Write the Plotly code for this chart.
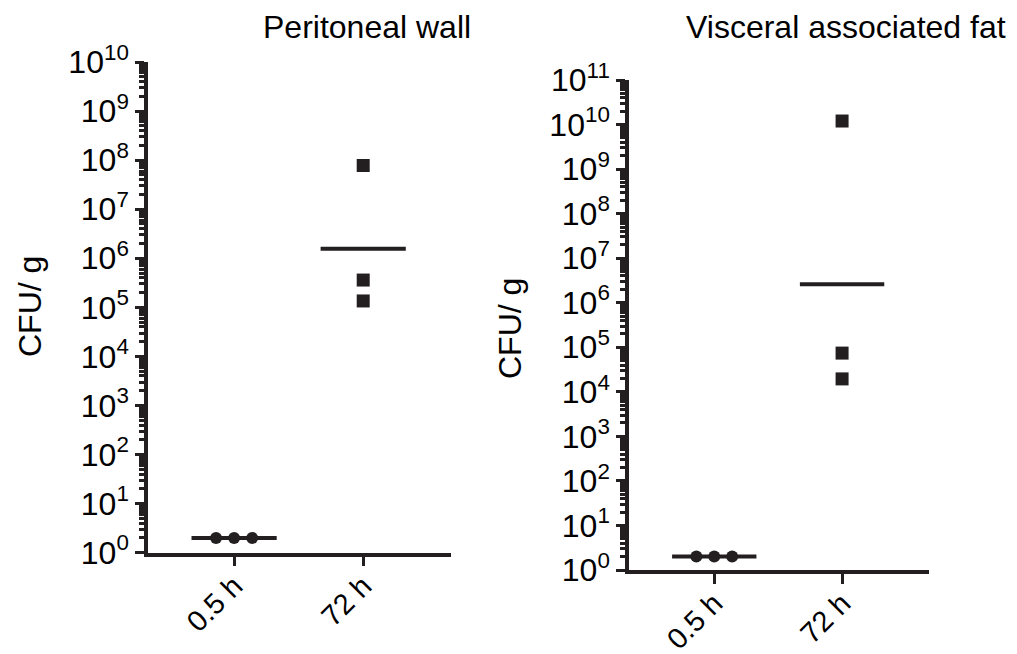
import numpy as np
import plotly.graph_objects as go

# ---- data ----
categories = ["0.5 h", "72 h"]
peritoneal_05h = [2, 2, 2]
peritoneal_72h = [7.8e7, 3.6e5, 1.35e5]
visceral_05h = [2, 2, 2]
visceral_72h = [1.2e10, 7.4e4, 1.95e4]
titles = ["Peritoneal wall", "Visceral associated fat"]
y_title = "CFU/ g"
left_max_exp = 10
right_max_exp = 11

INK = "#231f20"
FONT = "Liberation Sans, Arial, sans-serif"

fig = go.Figure()


def geo_mean(vals):
    return float(10 ** np.mean(np.log10(vals)))


def add_group(xref, yref, xpos, vals, symbol, size, spread):
    n = len(vals)
    if spread:
        xs = [xpos + (i - (n - 1) / 2) * 0.14 for i in range(n)]
    else:
        xs = [xpos] * n
    m = geo_mean(vals)
    fig.add_trace(go.Scatter(x=[xpos - 0.33, xpos + 0.33], y=[m, m], mode="lines",
                             line=dict(color=INK, width=4), xaxis=xref, yaxis=yref,
                             showlegend=False, hoverinfo="skip"))
    fig.add_trace(go.Scatter(x=xs, y=vals, mode="markers",
                             marker=dict(symbol=symbol, size=size, color=INK,
                                         line=dict(width=0)),
                             xaxis=xref, yaxis=yref, showlegend=False))


add_group("x", "y", 0, peritoneal_05h, "circle", 12, True)
add_group("x", "y", 1, peritoneal_72h, "square", 13, False)
add_group("x2", "y2", 0, visceral_05h, "circle", 12, True)
add_group("x2", "y2", 1, visceral_72h, "square", 13, False)


def yaxis_cfg(max_exp, domain, anchor):
    vals = [10 ** e for e in range(0, max_exp + 1)]
    text = ["10<sup>%d</sup>" % e for e in range(0, max_exp + 1)]
    minor_vals = [k * 10 ** e for e in range(0, max_exp) for k in range(2, 10)]
    return dict(type="log", range=[0, max_exp], domain=domain, anchor=anchor,
                automargin=False,
                tickmode="array", tickvals=vals, ticktext=text,
                ticks="outside", ticklen=9, tickwidth=3, tickcolor=INK,
                showline=True, linewidth=3.5, linecolor=INK,
                showgrid=False, zeroline=False,
                tickfont=dict(family=FONT, size=32, color="#000000"),
                minor=dict(tickmode="array", tickvals=minor_vals, ticks="outside",
                           ticklen=5, tickwidth=2.5, tickcolor=INK, showgrid=False))


def xaxis_cfg(domain, anchor):
    return dict(range=[-0.667, 1.68], domain=domain, anchor=anchor,
                automargin=False,
                tickmode="array", tickvals=[0, 1], ticktext=categories,
                tickangle=-45, ticks="outside", ticklen=10, tickwidth=3,
                tickcolor=INK, showline=True, linewidth=3.5, linecolor=INK,
                showgrid=False, zeroline=False, ticklabelstandoff=-9,
                tickfont=dict(family=FONT, size=29, color="#000000"))


W, H = 1017, 654
fig.update_layout(
    template="none",
    width=W, height=H,
    margin=dict(l=0, r=0, t=0, b=0, pad=0),
    paper_bgcolor="white", plot_bgcolor="white",
    xaxis=xaxis_cfg([148 / W, 451 / W], "y"),
    yaxis=yaxis_cfg(left_max_exp, [1 - 552.7 / H, 1 - 62 / H], "x"),
    xaxis2=xaxis_cfg([629 / W, 929 / W], "y2"),
    yaxis2=yaxis_cfg(right_max_exp, [1 - 570 / H, 1 - 80 / H], "x2"),
    font=dict(family=FONT, color=INK),
    showlegend=False,
)

annots = [
    dict(text=titles[0], x=367 / W, y=1 - 27 / H, font=dict(size=32)),
    dict(text=titles[1], x=846 / W, y=1 - 27 / H, font=dict(size=32)),
    dict(text=y_title, x=30 / W, y=1 - 307 / H, textangle=-90, font=dict(size=32)),
    dict(text=y_title, x=510 / W, y=1 - 328 / H, textangle=-90, font=dict(size=32)),
]
for a in annots:
    a.update(xref="paper", yref="paper", xanchor="center", yanchor="middle",
             showarrow=False)
    a["font"].update(family=FONT, color="#000000")
    fig.add_annotation(**a)

fig.write_html("out.html", config={"displayModeBar": False},
               post_script="document.body.style.margin='0';document.body.style.overflow='hidden';")
